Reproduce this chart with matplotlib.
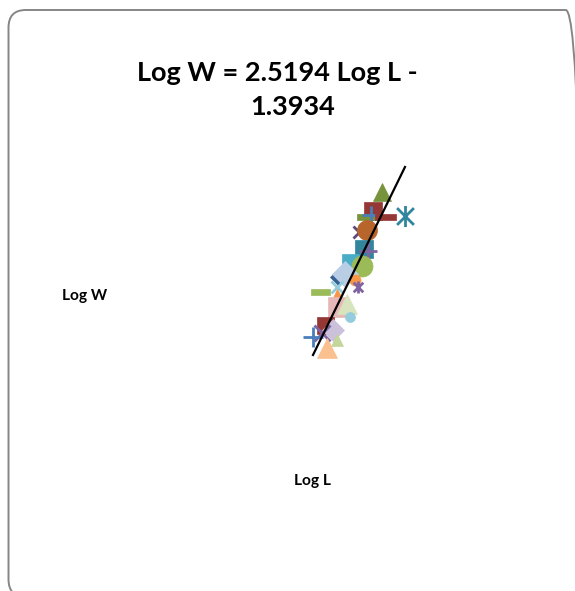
import matplotlib
matplotlib.use("Agg")
import matplotlib.pyplot as plt
from matplotlib.patches import FancyBboxPatch
from matplotlib.path import Path
import numpy as np

# Length-weight pairs (log10 length, log10 weight), one series per fish
log_l = [1.175, 1.146, 1.127, 1.140, 1.185, 1.250, 1.100, 1.127, 1.117, 1.130,
         1.071, 1.110, 1.032, 1.055, 1.087, 0.973, 1.029, 1.097, 1.029, 1.032,
         1.061, 1.071, 0.990, 1.016, 0.980, 0.950, 1.029, 0.996]
log_w = [1.657, 1.578, 1.554, 1.562, 1.554, 1.558, 1.495, 1.502, 1.426, 1.418,
         1.375, 1.359, 1.315, 1.327, 1.303, 1.255, 1.275, 1.275, 1.247, 1.195,
         1.207, 1.151, 1.120, 1.100, 1.088, 1.072, 1.060, 1.028]

# Regression coefficients: Log W = slope * Log L + intercept
slope = 2.5194
intercept = -1.3934

# Custom marker shapes
dash = [(-1, -0.28), (1, -0.28), (1, 0.28), (-1, 0.28), (-1, -0.28)]
star = Path([(0, -1), (0, 1), (-0.8, -0.8), (0.8, 0.8), (-0.8, 0.8), (0.8, -0.8)],
            [Path.MOVETO, Path.LINETO, Path.MOVETO, Path.LINETO, Path.MOVETO, Path.LINETO])

styles = [
    ("^", "#77933C", 18), ("s", "#953735", 18), (dash, "#77933C", 21), ("+", "#4A7EBB", 18),
    (dash, "#953735", 21), (star, "#31859C", 21), ("x", "#5F497A", 12), ("o", "#B7652B", 20),
    ("s", "#31859C", 18), ("+", "#8064A2", 18), ("s", "#4BACC6", 17), ("o", "#9BBB59", 21),
    ("D", "#376092", 12), ("D", "#B9CDE5", 19), ("o", "#F79646", 11), (dash, "#9BBB59", 19),
    ("x", "#93CDDD", 12), (star, "#8064A2", 12), ("^", "#F79646", 11), ("s", "#E6B9B8", 20),
    ("^", "#D7E4BD", 20), ("o", "#93CDDD", 10), ("s", "#953735", 17), ("D", "#CCC1DA", 16),
    ("x", "#8064A2", 16), ("+", "#4A7EBB", 20), ("^", "#C3D69B", 12), ("^", "#FAC090", 20),
]

W, H = 575, 591
fig = plt.figure(figsize=(W / 100, H / 100), dpi=100)
fig.patch.set_facecolor("white")

# Rounded chart-area frame
frame = FancyBboxPatch((8.5 / W, -6 / H), (W + 8 - 8.5) / W, (H - 10 + 6) / H,
                       boxstyle="round,pad=0,rounding_size=0.03",
                       transform=fig.transFigure, facecolor="none",
                       edgecolor="#868686", linewidth=1.4, zorder=-5)
fig.patches.append(frame)

ax = fig.add_axes([130 / W, 1 - 450 / H, 370 / W, 310 / H])
ax.set_xlim(0.353, 1.560)
ax.set_ylim(0.618, 1.8645)
ax.axis("off")

for x, y, (m, c, s) in zip(log_l, log_w, styles):
    px = s * 72 / 100
    if m in ("+", "x") or m is star:
        ax.plot([x], [y], marker=m, linestyle="none", markersize=px,
                markeredgecolor=c, markeredgewidth=2.0, color=c)
    else:
        ax.plot([x], [y], marker=m, linestyle="none", markersize=px,
                markerfacecolor=c, markeredgecolor=c, markeredgewidth=0.5)

xs = np.array([min(log_l), max(log_l)])
ax.plot(xs, slope * xs + intercept, color="black", linewidth=1.6)

font = ["Lato", "DejaVu Sans"]
fig.text(277 / W, 1 - 73 / H, "Log W = 2.5194 Log L -", ha="center", va="center",
         fontsize=19.5, fontweight="bold", family=font)
fig.text(293 / W, 1 - 107 / H, "1.3934", ha="center", va="center",
         fontsize=19.5, fontweight="bold", family=font)
fig.text(85 / W, 1 - 296 / H, "Log W", ha="center", va="center",
         fontsize=11.2, fontweight="bold", family=font)
fig.text(312 / W, 1 - 481 / H, "Log L", ha="center", va="center",
         fontsize=11.2, fontweight="bold", family=font)

fig.savefig("out.png", dpi=100, facecolor="white")
